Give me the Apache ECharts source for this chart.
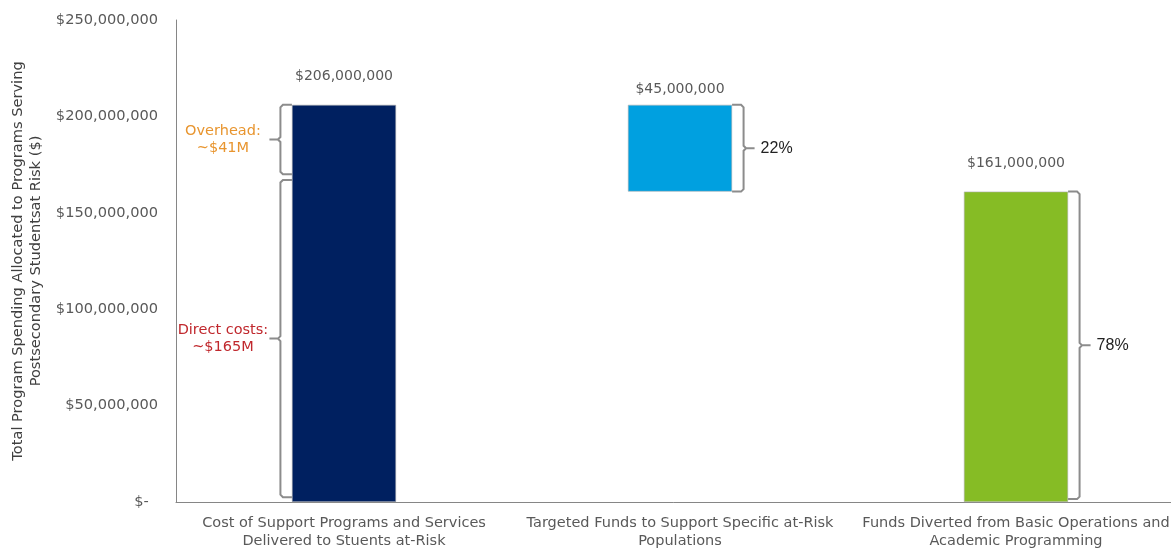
<!DOCTYPE html>
<html>
<head>
<meta charset="utf-8">
<script src="https://cdn.jsdelivr.net/npm/echarts@6/dist/echarts.min.js"></script>
<style>
html,body{margin:0;padding:0;background:#fff;}
#chart{width:1171px;height:548px;}
</style>
</head>
<body>
<div id="chart"></div>
<script>
const categories = [
  'Cost of Support Programs and Services\nDelivered to Stuents at-Risk',
  'Targeted Funds to Support Specific at-Risk\nPopulations',
  'Funds Diverted from Basic Operations and\nAcademic Programming'
];
const baseValues = [0, 161000000, 0];
const barValues = [206000000, 45000000, 161000000];
const barColors = ['#002060', '#00A0E0', '#86BC25'];
const yMin = 0, yMax = 250000000, yInterval = 50000000;
const yAxisTitle = 'Total Program Spending Allocated to Programs Serving\nPostsecondary Studentsat Risk ($)';

// brackets: category index, low value, high value, label
const bracketCats = [0, 0, 1, 2];
const bracketLow = [170000000, 2500000, 161000000, 1500000];
const bracketHigh = [206000000, 167000000, 206000000, 161000000];
const bracketLabels = ['Overhead:\n~$41M', 'Direct costs:\n~$165M', '22%', '78%'];
const bracketLabelColors = ['#E8952F', '#C0282D', '#222222', '#222222'];

function money(v){
  if (v === 0) return '$-  ';
  return '$' + v.toString().replace(/\B(?=(\d{3})+(?!\d))/g, ',');
}

const chart = echarts.init(document.getElementById('chart'));
const FONT = 'DejaVu Sans, Verdana, sans-serif';

const bracketData = bracketCats.map((c, i) => [c, bracketLow[i], bracketHigh[i], i]);

chart.setOption({
  animation: false,
  backgroundColor: '#ffffff',
  grid: {left: 176, top: 20, width: 1008, height: 482, containLabel: false, outerBoundsMode: 'none'},
  xAxis: {
    type: 'category',
    data: categories,
    axisLine: {lineStyle: {color: '#868686', width: 1}},
    axisTick: {show: false},
    axisLabel: {
      interval: 0,
      color: '#595959',
      fontFamily: FONT,
      fontSize: 14.5,
      lineHeight: 18,
      margin: 12
    }
  },
  yAxis: {
    type: 'value',
    min: yMin, max: yMax, interval: yInterval,
    name: yAxisTitle,
    nameLocation: 'middle',
    nameGap: 125,
    nameRotate: 90,
    nameTextStyle: {
      color: '#404040',
      fontFamily: FONT,
      fontSize: 14.6,
      lineHeight: 18
    },
    axisLine: {show: true, lineStyle: {color: '#868686', width: 1}},
    axisTick: {show: false},
    splitLine: {show: false},
    axisLabel: {
      color: '#595959',
      fontFamily: FONT,
      fontSize: 14.6,
      margin: 18,
      formatter: money
    }
  },
  series: [
    {
      type: 'bar',
      stack: 'wf',
      data: baseValues,
      barWidth: '31%',
      itemStyle: {color: 'transparent'},
      silent: true
    },
    {
      type: 'bar',
      stack: 'wf',
      barWidth: '31%',
      data: barValues.map((v, i) => ({
        value: v,
        itemStyle: {color: barColors[i], borderColor: '#b0b0b0', borderWidth: 0.6},
        label: {distance: i === 1 ? 8 : 21}
      })),
      label: {
        show: true,
        position: 'top',
        color: '#595959',
        fontFamily: FONT,
        fontSize: 14,
        formatter: p => money(p.value)
      }
    },
    {
      type: 'custom',
      data: bracketData,
      silent: true,
      z: 5,
      renderItem: function(params, api){
        const ci = api.value(0), lo = api.value(1), hi = api.value(2), idx = api.value(3);
        const pT = api.coord([ci, hi]);
        const pB = api.coord([ci, lo]);
        const bw = api.size([1, 0])[0] * 0.31;
        const side = ci === 0 ? -1 : 1;
        const edge = pT[0] + side * bw / 2;
        const vx = edge + side * 11.5;
        const tip = vx + side * 11;
        const yT = pT[1], yB = pB[1], yM = (yT + yB) / 2;
        const r = 2.5;
        const pts = [
          [edge, yT], [vx - side * r, yT], [vx, yT + r],
          [vx, yM - r], [vx + side * r, yM], [tip, yM], [vx + side * r, yM],
          [vx, yM + r], [vx, yB - r], [vx - side * r, yB], [edge, yB]
        ];
        const children = [{
          type: 'polyline',
          shape: {points: pts},
          style: {stroke: '#8c8c8c', lineWidth: 2, fill: null}
        }];
        if (side < 0) {
          children.push({
            type: 'text',
            style: {
              text: bracketLabels[idx],
              x: edge - 69, y: yM,
              align: 'center', verticalAlign: 'middle',
              fill: bracketLabelColors[idx],
              font: '14.5px ' + FONT,
              lineHeight: 17
            }
          });
        } else {
          children.push({
            type: 'text',
            style: {
              text: bracketLabels[idx],
              x: tip + 6, y: yM,
              align: 'left', verticalAlign: 'middle',
              fill: bracketLabelColors[idx],
              font: '16px Liberation Sans, Arial, sans-serif'
            }
          });
        }
        return {type: 'group', children: children};
      }
    }
  ]
});
</script>
</body>
</html>
